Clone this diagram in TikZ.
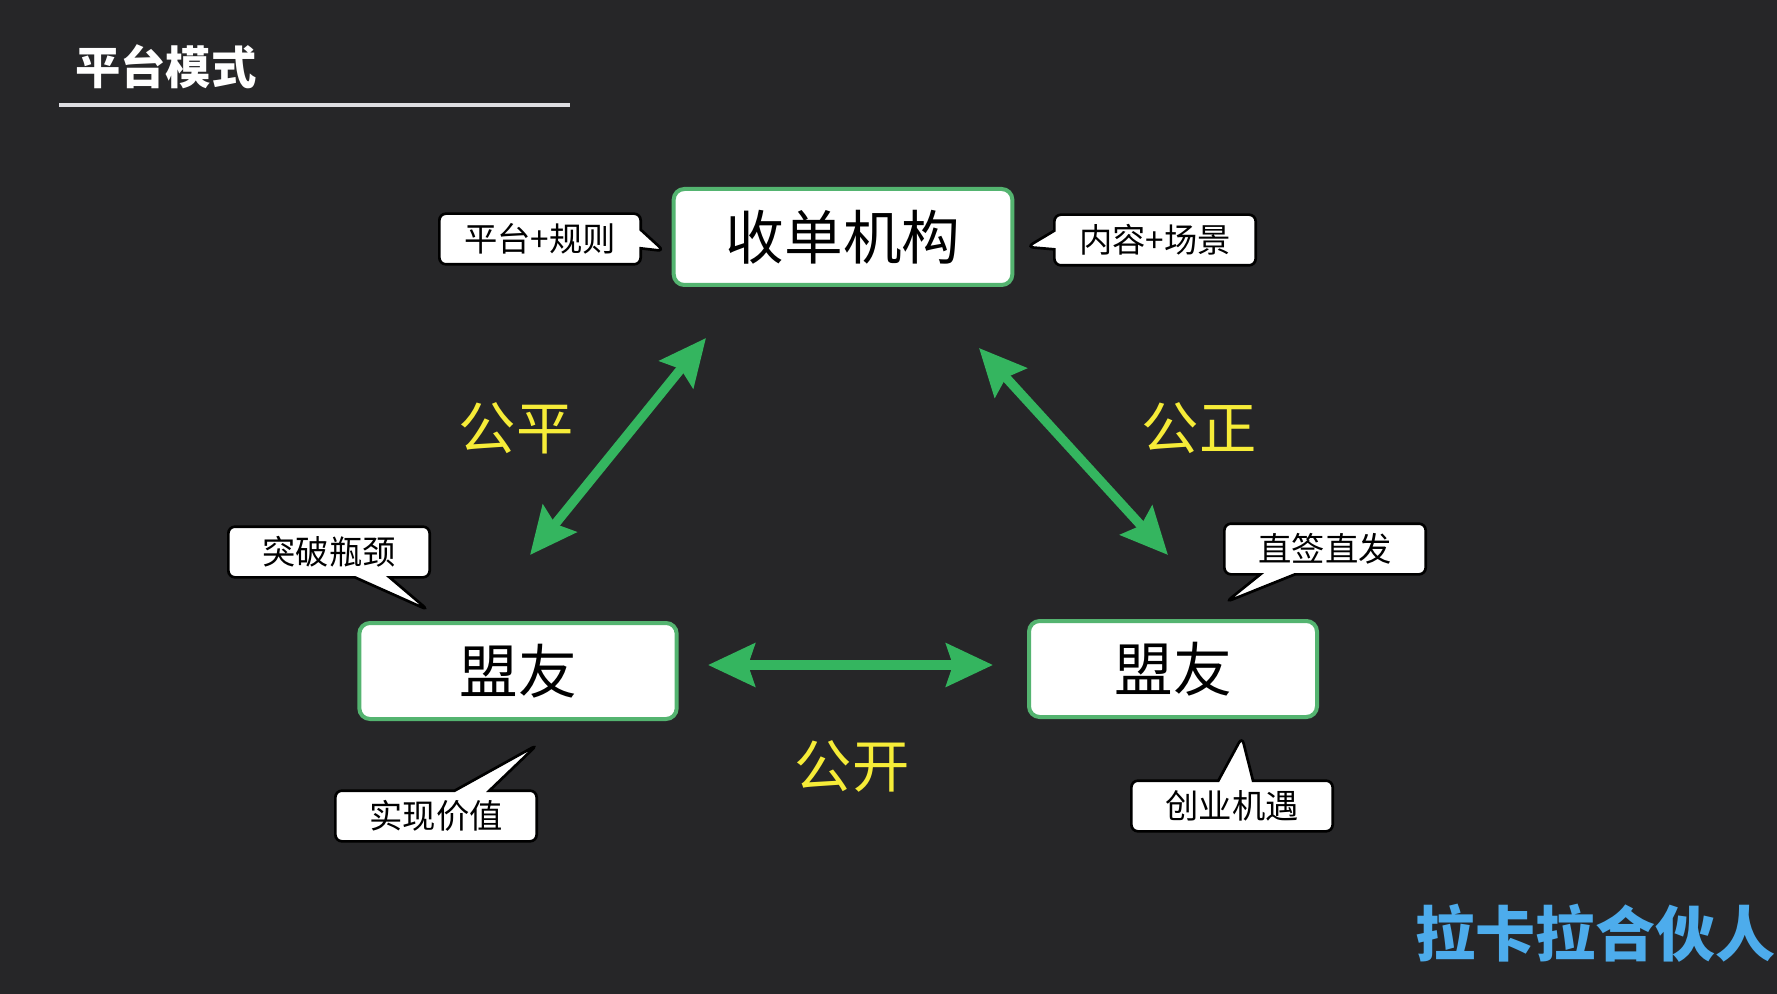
\documentclass[tikz,border=0pt]{standalone}
\usepackage{fontspec}
\setmainfont{Noto Sans CJK SC}
\usetikzlibrary{arrows.meta, shapes.callouts}

\definecolor{bgdark}{RGB}{38,38,40}
\definecolor{boxgreen}{RGB}{84,180,112}
\definecolor{arrowgreen}{RGB}{52,181,95}
\definecolor{labelyellow}{RGB}{246,236,56}
\definecolor{markblue}{RGB}{77,172,236}

\begin{document}
\begin{tikzpicture}[
    x=0.75pt, y=-0.75pt,
    party/.style={draw=boxgreen, line width=3pt, fill=white, rounded corners=8pt,
      minimum height=72pt, font=\fontsize{44}{44}\selectfont},
    note/.style={rectangle callout, draw=black, line width=2pt, fill=white,
      rounded corners=5pt, minimum width=151pt, minimum height=38pt,
      callout pointer width=26pt, font=\fontsize{25}{25}\selectfont},
    virtue/.style={text=labelyellow, inner sep=0pt, font=\fontsize{43}{43}\selectfont},
    link/.style={arrowgreen, line width=7pt,
      {Stealth[length=35pt, width=32pt, inset=5pt]}-{Stealth[length=35pt, width=32pt, inset=5pt]}}
  ]
  \fill[bgdark] (0,0) rectangle (1777,994);
  \useasboundingbox (0,0) rectangle (1777,994);

  % Title and rule
  \node[anchor=west, inner sep=0pt, text=white, font=\fontsize{34}{34}\selectfont\bfseries] (title) at (75,67) {平台模式};
  \draw[draw={rgb,255:red,222;green,222;blue,226}, line width=3pt] (59,105) -- (570,105);

  % Three parties
  \node[party, minimum width=254pt] (acq) at (843,237) {收单机构};
  \node[party, minimum width=238pt] (allyL) at (518,671) {盟友};
  \node[party, minimum width=216pt] (allyR) at (1173,669) {盟友};

  % Callouts
  \node[note, callout pointer width=14pt, callout absolute pointer={(664,251)}] (rule) at (540,239) {平台+规则};
  \node[note, callout pointer width=14pt, callout absolute pointer={(1027,247)}] (scene) at (1155,240) {内容+场景};
  \node[note, callout absolute pointer={(428,610)}] (neck) at (329,552) {突破瓶颈};
  \node[note, callout absolute pointer={(537,745)}] (value) at (436,816) {实现价值};
  \node[note, callout absolute pointer={(1226,602)}] (direct) at (1325,549) {直签直发};
  \node[note, callout absolute pointer={(1242,737)}] (chance) at (1232,806) {创业机遇};

  % Double arrows between the parties
  \coordinate (fairA) at (530,555);
  \coordinate (fairB) at (706,338);
  \coordinate (justA) at (979,348);
  \coordinate (justB) at (1168,555);
  \coordinate (openA) at (708,665);
  \coordinate (openB) at (993,665);
  \draw[link] (fairA) -- (fairB);
  \draw[link] (justA) -- (justB);
  \draw[link] (openA) -- (openB);

  \node[virtue] (fair) at (516,428) {公平};
  \node[virtue] (just) at (1199,428) {公正};
  \node[virtue] (open) at (852,766) {公开};

  % Watermark
  \node[text=markblue, inner sep=0pt, font=\fontsize{45}{45}\selectfont\bfseries] (mark) at (1595,933) {拉卡拉合伙人};
\end{tikzpicture}
\end{document}
